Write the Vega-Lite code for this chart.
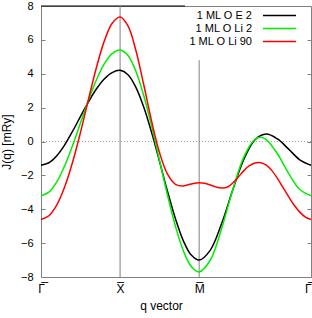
{
  "$schema": "https://vega.github.io/schema/vega-lite/v6.json",
  "width": 270,
  "height": 271,
  "autosize": {"type": "none"},
  "padding": {"left": 41, "top": 6, "right": 1, "bottom": 41},
  "background": "white",
  "config": {
    "view": {"stroke": "#808080", "strokeWidth": 1},
    "axis": {"labelFont": "Liberation Sans", "titleFont": "Liberation Sans", "labelColor": "black", "titleColor": "black", "titleFontWeight": "normal", "labelFontSize": 11, "titleFontSize": 12, "grid": false, "domain": false},
    "legend": {"labelFont": "Liberation Sans", "labelColor": "black"}
  },
  "datasets": {
    "curves": [
      {"x": 0, "y": -1.4, "series": "1 ML O E 2"},
      {"x": 0.1, "y": -1.255, "series": "1 ML O E 2"},
      {"x": 0.2, "y": -0.837, "series": "1 ML O E 2"},
      {"x": 0.3, "y": -0.194, "series": "1 ML O E 2"},
      {"x": 0.4, "y": 0.607, "series": "1 ML O E 2"},
      {"x": 0.5, "y": 1.48, "series": "1 ML O E 2"},
      {"x": 0.6, "y": 2.337, "series": "1 ML O E 2"},
      {"x": 0.7, "y": 3.098, "series": "1 ML O E 2"},
      {"x": 0.8, "y": 3.693, "series": "1 ML O E 2"},
      {"x": 0.9, "y": 4.071, "series": "1 ML O E 2"},
      {"x": 1.0, "y": 4.2, "series": "1 ML O E 2"},
      {"x": 1.1, "y": 3.945, "series": "1 ML O E 2"},
      {"x": 1.2, "y": 3.199, "series": "1 ML O E 2"},
      {"x": 1.3, "y": 2.023, "series": "1 ML O E 2"},
      {"x": 1.4, "y": 0.511, "series": "1 ML O E 2"},
      {"x": 1.5, "y": -1.2, "series": "1 ML O E 2"},
      {"x": 1.6, "y": -2.949, "series": "1 ML O E 2"},
      {"x": 1.7, "y": -4.561, "series": "1 ML O E 2"},
      {"x": 1.8, "y": -5.861, "series": "1 ML O E 2"},
      {"x": 1.9, "y": -6.707, "series": "1 ML O E 2"},
      {"x": 2.0, "y": -7.0, "series": "1 ML O E 2"},
      {"x": 2.1414, "y": -6.41, "series": "1 ML O E 2"},
      {"x": 2.2828, "y": -4.86, "series": "1 ML O E 2"},
      {"x": 2.4243, "y": -2.87, "series": "1 ML O E 2"},
      {"x": 2.5657, "y": -1.05, "series": "1 ML O E 2"},
      {"x": 2.7071, "y": 0.11, "series": "1 ML O E 2"},
      {"x": 2.8485, "y": 0.44, "series": "1 ML O E 2"},
      {"x": 2.9899, "y": 0.15, "series": "1 ML O E 2"},
      {"x": 3.1314, "y": -0.45, "series": "1 ML O E 2"},
      {"x": 3.2728, "y": -1.08, "series": "1 ML O E 2"},
      {"x": 3.4142, "y": -1.4, "series": "1 ML O E 2"},

      {"x": 0, "y": -3.2, "series": "1 ML O Li 2"},
      {"x": 0.1, "y": -2.99, "series": "1 ML O Li 2"},
      {"x": 0.2, "y": -2.379, "series": "1 ML O Li 2"},
      {"x": 0.3, "y": -1.428, "series": "1 ML O Li 2"},
      {"x": 0.4, "y": -0.229, "series": "1 ML O Li 2"},
      {"x": 0.5, "y": 1.1, "series": "1 ML O Li 2"},
      {"x": 0.6, "y": 2.429, "series": "1 ML O Li 2"},
      {"x": 0.7, "y": 3.628, "series": "1 ML O Li 2"},
      {"x": 0.8, "y": 4.579, "series": "1 ML O Li 2"},
      {"x": 0.9, "y": 5.19, "series": "1 ML O Li 2"},
      {"x": 1.0, "y": 5.4, "series": "1 ML O Li 2"},
      {"x": 1.1, "y": 5.079, "series": "1 ML O Li 2"},
      {"x": 1.2, "y": 4.149, "series": "1 ML O Li 2"},
      {"x": 1.3, "y": 2.7, "series": "1 ML O Li 2"},
      {"x": 1.4, "y": 0.874, "series": "1 ML O Li 2"},
      {"x": 1.5, "y": -1.15, "series": "1 ML O Li 2"},
      {"x": 1.6, "y": -3.174, "series": "1 ML O Li 2"},
      {"x": 1.7, "y": -5.0, "series": "1 ML O Li 2"},
      {"x": 1.8, "y": -6.449, "series": "1 ML O Li 2"},
      {"x": 1.9, "y": -7.379, "series": "1 ML O Li 2"},
      {"x": 2.0, "y": -7.7, "series": "1 ML O Li 2"},
      {"x": 2.1414, "y": -6.996, "series": "1 ML O Li 2"},
      {"x": 2.2828, "y": -5.155, "series": "1 ML O Li 2"},
      {"x": 2.4243, "y": -2.861, "series": "1 ML O Li 2"},
      {"x": 2.5657, "y": -0.907, "series": "1 ML O Li 2"},
      {"x": 2.7071, "y": 0.137, "series": "1 ML O Li 2"},
      {"x": 2.7778, "y": 0.25, "series": "1 ML O Li 2"},
      {"x": 2.8485, "y": 0.114, "series": "1 ML O Li 2"},
      {"x": 2.9899, "y": -0.725, "series": "1 ML O Li 2"},
      {"x": 3.1314, "y": -1.884, "series": "1 ML O Li 2"},
      {"x": 3.2728, "y": -2.837, "series": "1 ML O Li 2"},
      {"x": 3.4142, "y": -3.2, "series": "1 ML O Li 2"},

      {"x": 0, "y": -4.6, "series": "1 ML O Li 90"},
      {"x": 0.1, "y": -4.386, "series": "1 ML O Li 90"},
      {"x": 0.2, "y": -3.742, "series": "1 ML O Li 90"},
      {"x": 0.3, "y": -2.674, "series": "1 ML O Li 90"},
      {"x": 0.4, "y": -1.213, "series": "1 ML O Li 90"},
      {"x": 0.5, "y": 0.555, "series": "1 ML O Li 90"},
      {"x": 0.6, "y": 2.479, "series": "1 ML O Li 90"},
      {"x": 0.7, "y": 4.35, "series": "1 ML O Li 90"},
      {"x": 0.8, "y": 5.926, "series": "1 ML O Li 90"},
      {"x": 0.9, "y": 6.98, "series": "1 ML O Li 90"},
      {"x": 1.0, "y": 7.35, "series": "1 ML O Li 90"},
      {"x": 1.1, "y": 6.824, "series": "1 ML O Li 90"},
      {"x": 1.2, "y": 5.372, "series": "1 ML O Li 90"},
      {"x": 1.3, "y": 3.336, "series": "1 ML O Li 90"},
      {"x": 1.4, "y": 1.172, "series": "1 ML O Li 90"},
      {"x": 1.5, "y": -0.68, "series": "1 ML O Li 90"},
      {"x": 1.6, "y": -1.932, "series": "1 ML O Li 90"},
      {"x": 1.7, "y": -2.526, "series": "1 ML O Li 90"},
      {"x": 1.8, "y": -2.622, "series": "1 ML O Li 90"},
      {"x": 1.9, "y": -2.504, "series": "1 ML O Li 90"},
      {"x": 2.0, "y": -2.43, "series": "1 ML O Li 90"},
      {"x": 2.0707, "y": -2.47, "series": "1 ML O Li 90"},
      {"x": 2.1414, "y": -2.57, "series": "1 ML O Li 90"},
      {"x": 2.2121, "y": -2.68, "series": "1 ML O Li 90"},
      {"x": 2.2828, "y": -2.74, "series": "1 ML O Li 90"},
      {"x": 2.3536, "y": -2.7, "series": "1 ML O Li 90"},
      {"x": 2.4243, "y": -2.45, "series": "1 ML O Li 90"},
      {"x": 2.495, "y": -2.1, "series": "1 ML O Li 90"},
      {"x": 2.5657, "y": -1.72, "series": "1 ML O Li 90"},
      {"x": 2.6364, "y": -1.43, "series": "1 ML O Li 90"},
      {"x": 2.7071, "y": -1.27, "series": "1 ML O Li 90"},
      {"x": 2.7778, "y": -1.25, "series": "1 ML O Li 90"},
      {"x": 2.8485, "y": -1.4, "series": "1 ML O Li 90"},
      {"x": 2.9192, "y": -1.72, "series": "1 ML O Li 90"},
      {"x": 2.9899, "y": -2.18, "series": "1 ML O Li 90"},
      {"x": 3.0607, "y": -2.72, "series": "1 ML O Li 90"},
      {"x": 3.1314, "y": -3.26, "series": "1 ML O Li 90"},
      {"x": 3.2021, "y": -3.76, "series": "1 ML O Li 90"},
      {"x": 3.2728, "y": -4.17, "series": "1 ML O Li 90"},
      {"x": 3.3435, "y": -4.46, "series": "1 ML O Li 90"},
      {"x": 3.4142, "y": -4.6, "series": "1 ML O Li 90"}
    ],
    "vlines": [{"x": 1, "y": -8, "y2": 8}, {"x": 2, "y": -8, "y2": 4.8}],
    "top": [{"x": 0, "x2": 1.82, "y": 8}],
    "zero": [{"y": 0}]
  },
  "resolve": {"axis": {"y": "independent"}},
  "layer": [
    {
      "data": {"name": "zero"},
      "mark": {"type": "rule", "color": "#a0a0a0", "strokeDash": [1, 2], "strokeWidth": 1},
      "encoding": {
        "y": {"field": "y", "type": "quantitative", "scale": {"domain": [-8, 8], "nice": false}, "axis": {"orient": "right", "values": [-8, -6, -4, -2, 0, 2, 4, 6], "labels": false, "ticks": true, "tickSize": -4, "tickColor": "#808080", "title": null}}
      }
    },
    {
      "data": {"name": "top"},
      "mark": {"type": "rule", "color": "#000000", "strokeWidth": 1.2},
      "encoding": {
        "x": {"field": "x", "type": "quantitative", "scale": {"domain": [0, 3.4142], "nice": false, "zero": false},
          "axis": {"title": "q vector", "values": [0, 1, 2, 3.4142], "labelExpr": "datum.value < 0.5 || datum.value > 3 ? 'Γ̅' : (datum.value < 1.5 ? 'X̅' : 'M̅')", "ticks": false, "labelPadding": 6, "labelFontSize": 12, "labelFlush": false, "labelBound": false, "labelOverlap": false, "labelAlign": {"condition": {"test": "datum.value > 3", "value": "right"}, "value": "center"}, "titlePadding": 6, "titleX": 120}},
        "x2": {"field": "x2"},
        "y": {"field": "y", "type": "quantitative", "axis": null}
      }
    },
    {
      "data": {"name": "vlines"},
      "mark": {"type": "rule", "color": "#808080", "strokeWidth": 1},
      "encoding": {
        "x": {"field": "x", "type": "quantitative", "scale": {"domain": [0, 3.4142], "nice": false, "zero": false},
          "axis": {"title": "q vector", "values": [0, 1, 2, 3.4142], "labelExpr": "datum.value < 0.5 || datum.value > 3 ? 'Γ̅' : (datum.value < 1.5 ? 'X̅' : 'M̅')", "ticks": false, "labelPadding": 6, "labelFontSize": 12, "labelFlush": false, "labelBound": false, "labelOverlap": false, "labelAlign": {"condition": {"test": "datum.value > 3", "value": "right"}, "value": "center"}, "titlePadding": 6, "titleX": 120}},
        "y": {"field": "y", "type": "quantitative", "axis": null},
        "y2": {"field": "y2"}
      }
    },
    {
      "data": {"name": "curves"},
      "mark": {"type": "line", "strokeWidth": 1.5, "interpolate": "catmull-rom"},
      "encoding": {
        "x": {"field": "x", "type": "quantitative", "scale": {"domain": [0, 3.4142], "nice": false, "zero": false},
          "axis": {"title": "q vector", "values": [0, 1, 2, 3.4142], "labelExpr": "datum.value < 0.5 || datum.value > 3 ? 'Γ̅' : (datum.value < 1.5 ? 'X̅' : 'M̅')", "ticks": false, "labelPadding": 6, "labelFontSize": 12, "labelFlush": false, "labelBound": false, "labelOverlap": false, "labelAlign": {"condition": {"test": "datum.value > 3", "value": "right"}, "value": "center"}, "titlePadding": 6, "titleX": 120}},
        "y": {"field": "y", "type": "quantitative", "scale": {"domain": [-8, 8], "nice": false},
          "axis": {"title": "J(q) [mRy]", "orient": "left", "values": [-8, -6, -4, -2, 0, 2, 4, 6, 8], "ticks": true, "tickSize": -4, "tickColor": "#808080", "labelPadding": 12, "titlePadding": 7}},
        "color": {"field": "series", "type": "nominal",
          "scale": {"domain": ["1 ML O E 2", "1 ML O Li 2", "1 ML O Li 90"], "range": ["#000000", "#00ee00", "#ff0000"]},
          "legend": {"orient": "none", "legendX": 232, "legendY": 3, "title": null, "symbolType": "M-3,0H3", "symbolSize": 121, "symbolStrokeWidth": 1.5, "labelAlign": "right", "labelOffset": -34, "labelFontSize": 11, "padding": 0, "rowPadding": 1}}
      }
    }
  ]
}
